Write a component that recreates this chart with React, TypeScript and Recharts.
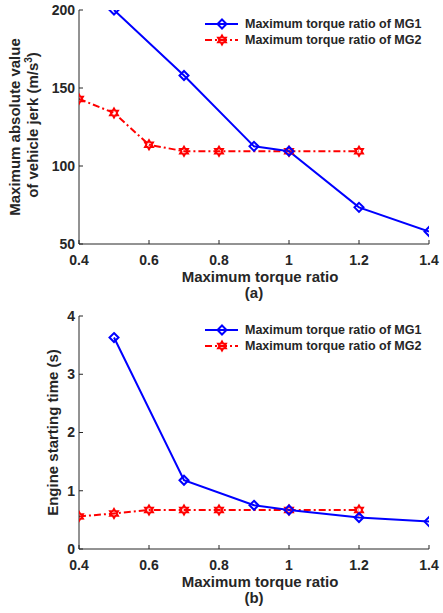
import React from 'react'
import { LineChart, Line, XAxis, YAxis, Legend, Label } from 'recharts'

const X_TICKS = [0.4, 0.6, 0.8, 1, 1.2, 1.4]
const MG1_X = [0.5, 0.7, 0.9, 1.0, 1.2, 1.4]
const MG2_X = [0.4, 0.5, 0.6, 0.7, 0.8, 1.0, 1.2]
const JERK_MG1 = [200, 158, 112.6, 109.5, 73.5, 58]
const JERK_MG2 = [143, 134, 113.6, 109.5, 109.5, 109.5, 109.5]
const TIME_MG1 = [3.63, 1.18, 0.75, 0.67, 0.54, 0.47]
const TIME_MG2 = [0.56, 0.61, 0.67, 0.67, 0.67, 0.67, 0.67]
const JERK_TICKS = [50, 100, 150, 200]
const TIME_TICKS = [0, 1, 2, 3, 4]
const SERIES_NAMES = ['Maximum torque ratio of MG1', 'Maximum torque ratio of MG2']

const FONT = '"Liberation Sans", Arial, sans-serif'
const INK = '#262626'
const BLUE = '#0000ff'
const RED = '#ff0000'
const TICK_LEN = 4

function pairs(xs: number[], ys: number[]) {
  return xs.map((x, i) => ({ x, y: ys[i] }))
}

function Diamond({ cx, cy }: { cx: number; cy: number }) {
  const r = 4.5
  return (
    <path
      d={`M${cx},${cy - r}L${cx + r},${cy}L${cx},${cy + r}L${cx - r},${cy}Z`}
      fill="none"
      stroke={BLUE}
      strokeWidth={2}
    />
  )
}

function Hexagram({ cx, cy }: { cx: number; cy: number }) {
  const R = 4.5
  const pts: string[] = []
  for (let k = 0; k < 12; k++) {
    const a = ((-90 + k * 30) * Math.PI) / 180
    const r = k % 2 === 0 ? R : R * 0.58
    pts.push(`${(cx + r * Math.cos(a)).toFixed(2)},${(cy + r * Math.sin(a)).toFixed(2)}`)
  }
  return <polygon points={pts.join(' ')} fill="none" stroke={RED} strokeWidth={2} />
}

const bottomTick = (margin: number) => (p: any) => {
  const { x, y, payload } = p
  const ay = y - margin
  return (
    <g>
      <line x1={x} x2={x} y1={ay} y2={ay - TICK_LEN} stroke={INK} strokeWidth={1} />
      <text x={x} y={y} dy="0.71em" textAnchor="middle" fill={INK} fontSize={14} fontWeight="bold" fontFamily={FONT}>
        {payload.value}
      </text>
    </g>
  )
}

const topTick = (p: any) => {
  const { x, y } = p
  return <line x1={x} x2={x} y1={y} y2={y + TICK_LEN} stroke={INK} strokeWidth={1} />
}

const leftTick = (margin: number) => (p: any) => {
  const { x, y, payload } = p
  const ax = x + margin
  return (
    <g>
      <line x1={ax} x2={ax + TICK_LEN} y1={y} y2={y} stroke={INK} strokeWidth={1} />
      <text x={x} y={y} dy="0.355em" textAnchor="end" fill={INK} fontSize={14} fontWeight="bold" fontFamily={FONT}>
        {payload.value}
      </text>
    </g>
  )
}

const rightTick = (p: any) => {
  const { x, y } = p
  return <line x1={x} x2={x - TICK_LEN} y1={y} y2={y} stroke={INK} strokeWidth={1} />
}

function LegendBox() {
  return (
    <svg width={240} height={36} style={{ display: 'block' }}>
      <line x1={5} x2={38} y1={10} y2={10} stroke={BLUE} strokeWidth={2} />
      <Diamond cx={22} cy={10} />
      <text x={45} y={10} dy="0.355em" fontSize={12.5} fontWeight="bold" fill={INK} fontFamily={FONT}>
        {SERIES_NAMES[0]}
      </text>
      <line x1={5} x2={38} y1={26} y2={26} stroke={RED} strokeWidth={2} strokeDasharray="7 3 2 3" />
      <Hexagram cx={22} cy={26} />
      <text x={45} y={26} dy="0.355em" fontSize={12.5} fontWeight="bold" fill={INK} fontFamily={FONT}>
        {SERIES_NAMES[1]}
      </text>
    </svg>
  )
}

type PanelProps = {
  height: number
  marginTop: number
  marginBottom: number
  mg1: number[]
  mg2: number[]
  yDomain: [number, number]
  yTicks: number[]
  yLabel: React.ReactNode
  caption: string
}

function Panel(props: PanelProps) {
  const { height, marginTop, marginBottom, mg1, mg2, yDomain, yTicks, yLabel, caption } = props
  const xMargin = 11
  const yMargin = 4
  return (
    <LineChart
      width={443}
      height={height}
      margin={{ top: marginTop, right: 14, bottom: marginBottom, left: 39 }}
    >
      <XAxis
        xAxisId="b"
        dataKey="x"
        type="number"
        domain={[0.4, 1.4]}
        ticks={X_TICKS}
        height={30}
        tickSize={0}
        tickMargin={xMargin}
        tick={bottomTick(xMargin)}
        axisLine={{ stroke: INK }}
        tickLine={false}
        allowDataOverflow
      >
        <Label
          content={(lp: any) => {
            const vb = lp.viewBox
            const cx = vb.x + vb.width / 2
            return (
              <g fontFamily={FONT} fontWeight="bold" fill={INK}>
                <text x={cx + 6} y={vb.y + 38} textAnchor="middle" fontSize={15}>
                  Maximum torque ratio
                </text>
                <text x={cx} y={vb.y + 54} textAnchor="middle" fontSize={15}>
                  {caption}
                </text>
              </g>
            )
          }}
        />
      </XAxis>
      <XAxis
        xAxisId="t"
        orientation="top"
        dataKey="x"
        type="number"
        domain={[0.4, 1.4]}
        ticks={X_TICKS}
        height={0}
        tickSize={0}
        tickMargin={0}
        tick={topTick}
        axisLine={{ stroke: INK }}
        tickLine={false}
        allowDataOverflow
      />
      <YAxis
        yAxisId="l"
        type="number"
        domain={yDomain}
        ticks={yTicks}
        width={40}
        tickSize={0}
        tickMargin={yMargin}
        tick={leftTick(yMargin)}
        axisLine={{ stroke: INK }}
        tickLine={false}
        allowDataOverflow
      >
        <Label
          content={(lp: any) => {
            const vb = lp.viewBox
            return <g>{yLabel && (yLabel as any)(vb.y + vb.height / 2)}</g>
          }}
        />
      </YAxis>
      <YAxis
        yAxisId="r"
        orientation="right"
        type="number"
        domain={yDomain}
        ticks={yTicks}
        width={0}
        tickSize={0}
        tickMargin={0}
        tick={rightTick}
        axisLine={{ stroke: INK }}
        tickLine={false}
        allowDataOverflow
      />
      <Legend
        layout="horizontal"
        verticalAlign="middle"
        align="center"
        wrapperStyle={{ position: 'absolute', left: 200, top: marginTop + 4, width: 240, height: 36 }}
        content={() => <LegendBox />}
      />
      <Line
        xAxisId="b"
        yAxisId="l"
        data={pairs(MG2_X, mg2)}
        dataKey="y"
        name={SERIES_NAMES[1]}
        stroke={RED}
        strokeWidth={2}
        strokeDasharray="7 3 2 3"
        dot={(p: any) => <Hexagram key={`r${p.index}`} cx={p.cx} cy={p.cy} />}
        activeDot={false}
        isAnimationActive={false}
      />
      <Line
        xAxisId="b"
        yAxisId="l"
        data={pairs(MG1_X, mg1)}
        dataKey="y"
        name={SERIES_NAMES[0]}
        stroke={BLUE}
        strokeWidth={2}
        dot={(p: any) => <Diamond key={`b${p.index}`} cx={p.cx} cy={p.cy} />}
        activeDot={false}
        isAnimationActive={false}
      />
    </LineChart>
  )
}

const jerkLabel = (cy: number) => (
  <g fontFamily={FONT} fontWeight="bold" fill={INK} fontSize={15}>
    <text x={15} y={cy} dy="0.355em" textAnchor="middle" transform={`rotate(-90, 15, ${cy})`}>
      Maximum absolute value
    </text>
    <text x={33} y={cy - 2} dy="0.355em" textAnchor="middle" transform={`rotate(-90, 33, ${cy - 2})`}>
      of vehicle jerk (m/s
      <tspan dy={-6} fontSize={10}>3</tspan>
      <tspan dy={6}>)</tspan>
    </text>
  </g>
)

const timeLabel = (cy: number) => (
  <g fontFamily={FONT} fontWeight="bold" fill={INK} fontSize={15}>
    <text x={53} y={cy} dy="0.355em" textAnchor="middle" transform={`rotate(-90, 53, ${cy})`}>
      Engine starting time (s)
    </text>
  </g>
)

export default function App() {
  return (
    <div style={{ position: 'absolute', left: 0, top: 0, width: 443, height: 613, background: '#fff' }}>
      <Panel
        height={305}
        marginTop={10}
        marginBottom={31}
        mg1={JERK_MG1}
        mg2={JERK_MG2}
        yDomain={[50, 200]}
        yTicks={JERK_TICKS}
        yLabel={jerkLabel as any}
        caption="(a)"
      />
      <Panel
        height={308}
        marginTop={11}
        marginBottom={34}
        mg1={TIME_MG1}
        mg2={TIME_MG2}
        yDomain={[0, 4]}
        yTicks={TIME_TICKS}
        yLabel={timeLabel as any}
        caption="(b)"
      />
    </div>
  )
}
